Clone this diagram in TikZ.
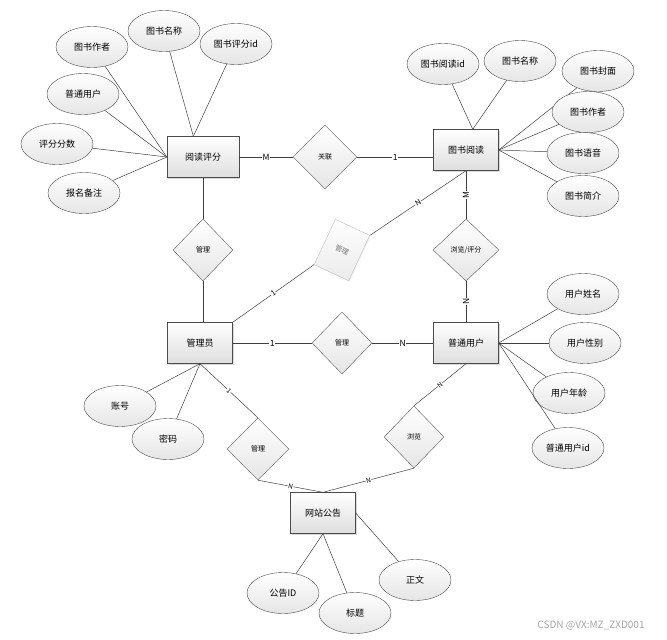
\documentclass[tikz,border=0pt]{standalone}
\usepackage{fontspec}
\setmainfont{Noto Sans CJK SC}
\usetikzlibrary{shapes.geometric,shadows}
\tikzset{
    ent/.style={draw=black!70, top color=white, bottom color=black!13, minimum width=65pt, minimum height=41pt, inner sep=1pt, font=\fontsize{9}{10}\selectfont, drop shadow={shadow xshift=1pt, shadow yshift=-1pt, opacity=.3}},
    att/.style={ellipse, draw=black!70, top color=white, bottom color=black!10, minimum width=72pt, minimum height=41pt, inner sep=0pt, font=\fontsize{9}{10}\selectfont},
    rel/.style={diamond, draw=black!65, top color=white, bottom color=black!10, minimum width=60pt, minimum height=62pt, inner sep=0pt, font=\fontsize{7}{8}\selectfont},
    lnk/.style={draw=black!75, line width=.5pt},
    card/.style={fill=white, inner sep=.5pt, font=\fontsize{8.5}{9}\selectfont},
    cardsm/.style={card, font=\fontsize{6.5}{7}\selectfont},
}
\begin{document}
\begin{tikzpicture}[x=1pt, y=1pt]
\useasboundingbox (0,0) rectangle (667,-640);
% entities
\node[ent, minimum width=72pt] (yd) at (203,-157) {阅读评分};
\node[ent] (ts) at (466,-150) {图书阅读};
\node[ent] (gly) at (200,-343) {管理员};
\node[ent] (yh) at (466,-343) {普通用户};
\node[ent] (gg) at (323,-513) {网站公告};

% relations
\node[rel, minimum width=64pt, minimum height=64pt] (gl) at (325,-157) {关联};
\node[rel] (r1) at (203,-250) {管理};
\node[rel, minimum width=66pt] (r2) at (466,-250) {浏览/评分};
\node[rel] (r3) at (342,-343) {管理};
\node[rel, minimum width=62pt] (r4) at (258,-449) {管理};
\node[rel] (r5) at (414,-437) {浏览};
\node[draw=black!25, top color=white, bottom color=black!8, text=black!55, minimum width=38pt, minimum height=50pt, inner sep=0pt, rotate=-25, font=\fontsize{7}{8}\selectfont, drop shadow={shadow xshift=1pt, shadow yshift=-1pt, opacity=.12}] (r6) at (342,-250) {管理};

% attributes
\foreach \t/\x/\y/\e [count=\i] in {图书作者/92/-47/yd.west, 图书名称/164/-31/yd.115, 图书评分id/236/-44/yd.115, 普通用户/83/-94/yd.west, 评分分数/57/-144/yd.west, 报名备注/84/-193/yd.west,
    图书阅读id/443/-64/ts.72, 图书名称/520/-61/ts.72, 图书封面/598/-71/ts.east, 图书作者/588/-112/ts.east, 图书语音/583/-153/ts.east, 图书简介/583/-196/ts.east,
    用户姓名/583/-294/yh.east, 用户性别/585/-343/yh.east, 用户年龄/569/-393/yh.east, 普通用户id/568/-448/yh.east,
    账号/120/-406/gly.south, 密码/168/-439/gly.south,
    公告ID/283/-593/gg.south, 标题/355/-613/gg.south, 正文/415/-580/gg.east}
{
    \node[att] (a\i) at (\x,\y) {\t};
    \draw[lnk] (a\i) -- (\e);
}

% connectors
\draw[lnk] (yd) -- node[card]{M} (gl);
\draw[lnk] (gl.east) -- node[card]{1} (gl.east -| ts.west);
\draw[lnk] (yd) -- (r1);
\draw[lnk] (r1.south) -- (r1.south |- gly.north);
\draw[lnk] (r2) -- node[card, rotate=90]{M} (ts);
\draw[lnk] (r2) -- node[card, rotate=90]{N} (yh);
\draw[lnk] (gly) -- node[card]{1} (r3);
\draw[lnk] (r3) -- node[card]{N} (yh);
\draw[lnk] (gly.north east) -- node[card, sloped, font=\fontsize{7.5}{8}\selectfont]{1} (r6.south west);
\draw[lnk] (r6.north east) -- node[card, sloped, font=\fontsize{7.5}{8}\selectfont]{N} (ts.south);
\draw[lnk] (gly.south) -- node[cardsm, sloped]{1} (r4.north);
\draw[lnk] (r4.south) -- node[cardsm, sloped]{N} (gg.north);
\draw[lnk] (r5.north) -- node[cardsm, sloped]{N} (yh.south);
\draw[lnk] (r5.south) -- node[cardsm, sloped]{N} (gg.north);

\node[text=black!35, font=\fontsize{10}{10}\selectfont] (wm) at (591,-626) {CSDN @VX:MZ\_ZXD001};
\end{tikzpicture}
\end{document}
